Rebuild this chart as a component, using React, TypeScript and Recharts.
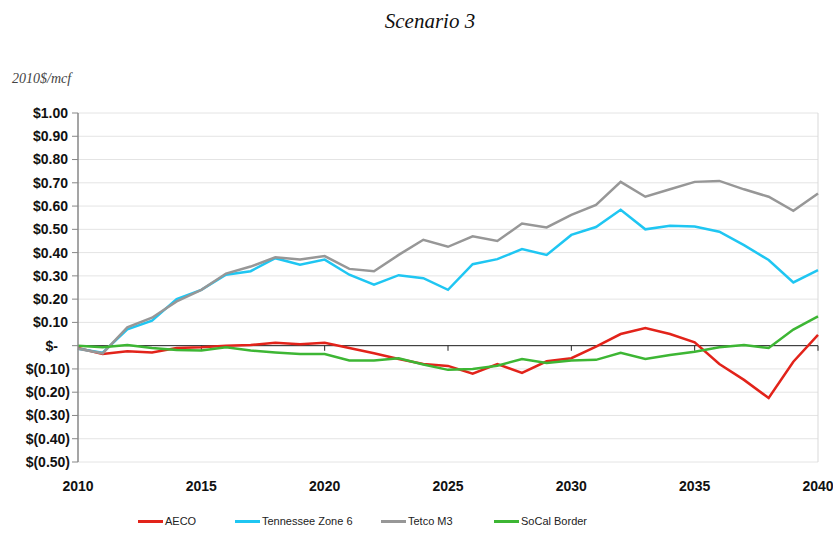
import { LineChart, Line, XAxis, YAxis, CartesianGrid, Legend, ReferenceLine } from 'recharts';

const years = [2010, 2011, 2012, 2013, 2014, 2015, 2016, 2017, 2018, 2019, 2020, 2021, 2022, 2023, 2024, 2025,
  2026, 2027, 2028, 2029, 2030, 2031, 2032, 2033, 2034, 2035, 2036, 2037, 2038, 2039, 2040];

const aeco = [-0.01, -0.036, -0.024, -0.029, -0.01, -0.007, 0, 0.003, 0.012, 0.006, 0.012, -0.01, -0.033, -0.057, -0.079, -0.087,
  -0.12, -0.079, -0.117, -0.067, -0.054, -0.004, 0.05, 0.076, 0.05, 0.014, -0.079, -0.147, -0.225, -0.069, 0.046];

const tennessee = [-0.013, -0.03, 0.07, 0.107, 0.2, 0.24, 0.305, 0.32, 0.376, 0.348, 0.37, 0.305, 0.262, 0.303, 0.29, 0.24,
  0.35, 0.372, 0.415, 0.39, 0.476, 0.51, 0.584, 0.5, 0.515, 0.512, 0.49, 0.432, 0.368, 0.272, 0.325];

const tetco = [-0.013, -0.033, 0.079, 0.12, 0.19, 0.24, 0.31, 0.34, 0.38, 0.37, 0.385, 0.33, 0.32, 0.39, 0.455, 0.425,
  0.47, 0.45, 0.525, 0.508, 0.562, 0.605, 0.704, 0.64, 0.672, 0.704, 0.708, 0.672, 0.64, 0.58, 0.654];

const socal = [0, -0.007, 0.003, -0.01, -0.019, -0.021, -0.007, -0.021, -0.029, -0.036, -0.036, -0.064, -0.064, -0.054, -0.081, -0.104,
  -0.1, -0.086, -0.057, -0.074, -0.064, -0.061, -0.031, -0.057, -0.04, -0.026, -0.007, 0.003, -0.01, 0.069, 0.126];

const yTicks = [-0.5, -0.4, -0.3, -0.2, -0.1, 0, 0.1, 0.2, 0.3, 0.4, 0.5, 0.6, 0.7, 0.8, 0.9, 1.0];
const xTicks = [2010, 2015, 2020, 2025, 2030, 2035, 2040];

const series = [
  { key: 'aeco', name: 'AECO', color: '#e2231a' },
  { key: 'tennessee', name: 'Tennessee Zone 6', color: '#1fc6f2' },
  { key: 'tetco', name: 'Tetco M3', color: '#979797' },
  { key: 'socal', name: 'SoCal Border', color: '#3db634' },
];

const data = years.map((year, i) => ({
  year,
  aeco: aeco[i],
  tennessee: tennessee[i],
  tetco: tetco[i],
  socal: socal[i],
}));

const fmt = (v: number) => {
  if (Math.abs(v) < 1e-9) return '$-';
  if (v < 0) return `$(${Math.abs(v).toFixed(2)})`;
  return `$${v.toFixed(2)}`;
};

const YTick = (props: any) => {
  const { x, y, payload } = props;
  const v = payload.value;
  const dx = Math.abs(v) < 1e-9 ? -12 : v > 0 ? -2 : 0;
  return (
    <text x={x + dx} y={y} dy="0.35em" textAnchor="end" fontFamily="Liberation Sans, Arial" fontWeight="bold" fontSize={14} fill="#111">
      {fmt(v)}
    </text>
  );
};

const legendLeft = [138, 235, 381, 494];

const LegendContent = () => (
  <div style={{ position: 'relative', height: 16, width: 833 }}>
    {series.map((s, i) => (
      <div key={s.key} style={{ position: 'absolute', left: legendLeft[i], top: 0, display: 'flex', alignItems: 'center' }}>
        <div style={{ width: 25, height: 3, background: s.color, marginRight: 2 }} />
        <span style={{ fontFamily: 'Liberation Sans, Arial', fontSize: 11, color: '#222' }}>{s.name}</span>
      </div>
    ))}
  </div>
);

const App = () => {
  return (
    <div style={{ position: 'absolute', left: 0, top: 0, width: 833, height: 533, background: '#fff' }}>
      <div style={{ position: 'absolute', top: 9, left: 0, width: 860, textAlign: 'center', fontFamily: 'Liberation Serif, Times New Roman', fontStyle: 'italic', fontSize: 21, color: '#111' }}>
        Scenario 3
      </div>
      <div style={{ position: 'absolute', top: 71, left: 12, fontFamily: 'Liberation Serif, Times New Roman', fontStyle: 'italic', fontSize: 14, color: '#444' }}>
        2010$/mcf
      </div>
      <LineChart
        width={833}
        height={533}
        data={data}
        margin={{ top: 113, right: 15, left: 0, bottom: 25 }}
      >
        <CartesianGrid vertical={false} stroke="#e4e4e4" />
        <XAxis
          dataKey="year"
          type="number"
          domain={[2010, 2040]}
          ticks={xTicks}
          axisLine={false}
          tickLine={false}
          tickMargin={13}
          height={30}
          tick={{ fontFamily: 'Liberation Sans, Arial', fontWeight: 'bold', fontSize: 14, fill: '#111' }}
        />
        <YAxis
          domain={[-0.5, 1]}
          ticks={yTicks}
          width={78}
          interval={0}
          axisLine={{ stroke: '#878787', strokeWidth: 1.5 }}
          tickLine={{ stroke: '#878787' }}
          tickSize={6}
          tick={<YTick />}
        />
        <ReferenceLine x={2040} stroke="#d9d9d9" />
        <ReferenceLine y={0} stroke="#222" />
        {xTicks.slice(1).map(t => (
          <ReferenceLine key={t} segment={[{ x: t, y: 0 }, { x: t, y: -0.022 }]} stroke="#222" />
        ))}
        {series.map(s => (
          <Line
            key={s.key}
            type="linear"
            dataKey={s.key}
            name={s.name}
            stroke={s.color}
            strokeWidth={2.5}
            dot={false}
            isAnimationActive={false}
          />
        ))}
        <Legend verticalAlign="bottom" align="left" content={<LegendContent />} wrapperStyle={{ left: 0, bottom: 2 }} />
      </LineChart>
    </div>
  );
};

export default App;
